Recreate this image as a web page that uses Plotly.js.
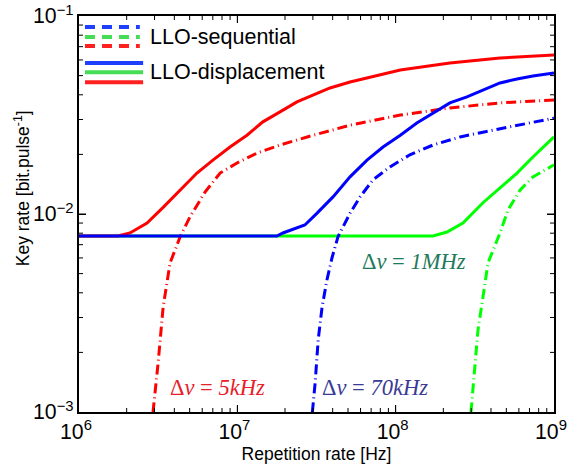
<!DOCTYPE html>
<html>
<head>
<meta charset="utf-8">
<script src="https://cdn.plot.ly/plotly-3.0.1.min.js"></script>
<style>html,body{margin:0;padding:0;background:#fff;}#chart{width:568px;height:468px;}</style>
</head>
<body>
<div id="chart"></div>
<script>
// Repetition rate [Hz] and key rate [bit/pulse]
const redSolidX = [1e6, 1.76e6, 2.10e6, 2.69e6, 3.40e6, 4.35e6, 5.56e6, 7.01e6, 8.99e6, 1.15e7, 1.45e7, 1.86e7, 2.38e7, 3.85e7, 5.15e7, 1.07e8, 2.20e8, 4.56e8, 1e9];
const redSolidY = [7.74e-3, 7.74e-3, 8.02e-3, 9.01e-3, 1.08e-2, 1.32e-2, 1.61e-2, 1.87e-2, 2.18e-2, 2.50e-2, 2.92e-2, 3.28e-2, 3.68e-2, 4.33e-2, 4.64e-2, 5.34e-2, 5.79e-2, 6.14e-2, 6.36e-2];

const redDashX = [2.85e6, 3.16e6, 3.40e6, 3.76e6, 4.35e6, 5.02e6, 6.25e6, 7.78e6, 9.96e6, 1.33e7, 1.86e7, 2.76e7, 5.15e7, 1.07e8, 2.20e8, 4.56e8, 1e9];
const redDashY = [8.0e-4, 1.77e-3, 3.39e-3, 5.66e-3, 7.66e-3, 9.66e-3, 1.29e-2, 1.61e-2, 1.81e-2, 2.03e-2, 2.23e-2, 2.45e-2, 2.81e-2, 3.16e-2, 3.43e-2, 3.64e-2, 3.77e-2];

const blueSolidX = [1e6, 1.78e7, 1.94e7, 2.67e7, 3.19e7, 4.02e7, 5.15e7, 6.59e7, 8.32e7, 1.07e8, 1.36e8, 1.72e8, 2.20e8, 2.82e8, 3.56e8, 4.56e8, 5.84e8, 7.36e8, 1e9];
const blueSolidY = [7.74e-3, 7.74e-3, 8.02e-3, 8.80e-3, 1.01e-2, 1.22e-2, 1.54e-2, 1.87e-2, 2.18e-2, 2.50e-2, 2.88e-2, 3.24e-2, 3.64e-2, 3.90e-2, 4.23e-2, 4.59e-2, 4.81e-2, 4.98e-2, 5.15e-2];

const blueDashX = [2.9e7, 3.10e7, 3.24e7, 3.43e7, 3.68e7, 3.96e7, 4.32e7, 5.15e7, 5.96e7, 7.20e7, 9.21e7, 1.23e8, 1.72e8, 2.55e8, 3.56e8, 5.84e8, 1e9];
const blueDashY = [8.0e-4, 1.40e-3, 2.31e-3, 3.39e-3, 4.64e-3, 6.00e-3, 7.66e-3, 1.01e-2, 1.22e-2, 1.49e-2, 1.73e-2, 1.99e-2, 2.23e-2, 2.45e-2, 2.59e-2, 2.81e-2, 3.05e-2];

const greenSolidX = [1e6, 1.72e8, 2.11e8, 2.66e8, 3.56e8, 4.56e8, 5.84e8, 7.36e8, 1e9];
const greenSolidY = [7.74e-3, 7.74e-3, 8.11e-3, 9.01e-3, 1.14e-2, 1.35e-2, 1.61e-2, 1.94e-2, 2.45e-2];

const greenDashX = [2.92e8, 3.17e8, 3.31e8, 3.56e8, 3.83e8, 4.56e8, 5.13e8, 6.10e8, 7.36e8, 1e9];
const greenDashY = [8.0e-4, 1.63e-3, 2.59e-3, 3.81e-3, 5.66e-3, 8.02e-3, 1.05e-2, 1.32e-2, 1.54e-2, 1.77e-2];

// tick positions
const xMajorTicks = [1e7, 1e8];
const yMajorTicks = [1e-2];
const xMinorTicks = [2e6,3e6,4e6,5e6,6e6,7e6,8e6,9e6, 2e7,3e7,4e7,5e7,6e7,7e7,8e7,9e7, 2e8,3e8,4e8,5e8,6e8,7e8,8e8,9e8];
const yMinorTicks = [2e-3,3e-3,4e-3,5e-3,6e-3,7e-3,8e-3,9e-3, 2e-2,3e-2,4e-2,5e-2,6e-2,7e-2,8e-2,9e-2];

const legendLabels = ["LLO-sequential", "LLO-displacement"];
const linewidthLabels = ["Δ<i>ν</i> = <i>5kHz</i>", "Δ<i>ν</i> = <i>70kHz</i>", "Δ<i>ν</i> = <i>1MHz</i>"];
const xTitle = "Repetition rate [Hz]";
const yTitle = "Key rate [bit.pulse<sup>-1</sup>]";

const RED = "#ff0000", BLUE = "#0000ff", GREEN = "#00ff00";
const DD = "10px,4px,1px,4px";
const W = 3;

const traces = [
  {x: greenSolidX, y: greenSolidY, mode: "lines", line: {color: GREEN, width: W}},
  {x: greenDashX, y: greenDashY, mode: "lines", line: {color: GREEN, width: W, dash: DD}},
  {x: redSolidX, y: redSolidY, mode: "lines", line: {color: RED, width: W}},
  {x: redDashX, y: redDashY, mode: "lines", line: {color: RED, width: W, dash: DD}},
  {x: blueSolidX, y: blueSolidY, mode: "lines", line: {color: BLUE, width: W}},
  {x: blueDashX, y: blueDashY, mode: "lines", line: {color: BLUE, width: W, dash: DD}}
];

const PLOT_W = 475, PLOT_H = 396;
const shapes = [];
// tick marks (inside, on all four sides)
function xTicks(vals, len) {
  const f = len / PLOT_H;
  vals.forEach(v => {
    shapes.push({type: "line", xref: "x", yref: "paper", x0: v, x1: v, y0: 0, y1: f, layer: "above", line: {color: "#000", width: 1}});
    shapes.push({type: "line", xref: "x", yref: "paper", x0: v, x1: v, y0: 1, y1: 1 - f, layer: "above", line: {color: "#000", width: 1}});
  });
}
function yTicks(vals, len) {
  const f = len / PLOT_W;
  vals.forEach(v => {
    shapes.push({type: "line", xref: "paper", yref: "y", x0: 0, x1: f, y0: v, y1: v, layer: "above", line: {color: "#000", width: 1}});
    shapes.push({type: "line", xref: "paper", yref: "y", x0: 1, x1: 1 - f, y0: v, y1: v, layer: "above", line: {color: "#000", width: 1}});
  });
}
xTicks(xMajorTicks, 7); xTicks(xMinorTicks, 4);
yTicks(yMajorTicks, 7); yTicks(yMinorTicks, 4);

// legend drawn with shapes (paper coords)
const legDash = [[0.972, "#1f3fff"], [0.947, "#44dd55"], [0.924, "#ff2020"]];
legDash.forEach(([y, c]) => shapes.push({type: "line", xref: "paper", yref: "paper", x0: 0.0126, x1: 0.128, y0: y, y1: y, line: {color: c, width: 4, dash: "10px,7px"}}));
const legSolid = [[0.881, "#1f3fff"], [0.858, "#44dd55"], [0.833, "#ff2020"]];
legSolid.forEach(([y, c]) => shapes.push({type: "line", xref: "paper", yref: "paper", x0: 0.0126, x1: 0.135, y0: y, y1: y, line: {color: c, width: 4}}));

const SANS = "Liberation Sans, Arial, sans-serif";
const tickFont = {family: SANS, size: 17, color: "#000"};
const annSerif = {family: "Liberation Serif, Times New Roman, serif", size: 22.5};

const layout = {
  width: 568, height: 468,
  margin: {l: 79, r: 14, t: 16, b: 56},
  paper_bgcolor: "#fff", plot_bgcolor: "#fff",
  showlegend: false,
  xaxis: {
    type: "log", range: [6, 9], dtick: 1, exponentformat: "power",
    ticks: "inside", ticklen: 7, tickwidth: 1, tickcolor: "#000",
    showline: true, linecolor: "#000", linewidth: 2, mirror: "ticks",
    showgrid: false, zeroline: false, tickfont: tickFont, ticklabeloverflow: "allow",
    ticklabelshift: -3,
    title: {text: xTitle, font: {family: SANS, size: 17.5, color: "#000"}, standoff: 3}
  },
  yaxis: {
    type: "log", range: [-3, -1], dtick: 1, exponentformat: "power",
    ticks: "inside", ticklen: 7, tickwidth: 1, tickcolor: "#000",
    showline: true, linecolor: "#000", linewidth: 2, mirror: "ticks",
    showgrid: false, zeroline: false, tickfont: tickFont, ticklabeloverflow: "allow"
  },
  shapes: shapes,
  annotations: [
    {xref: "paper", yref: "paper", x: -0.12, y: 0.565, xanchor: "center", yanchor: "middle", textangle: -90, text: yTitle, showarrow: false, font: {family: SANS, size: 17.5, color: "#000"}},
    {xref: "paper", yref: "paper", x: 0.145, y: 0.947, xanchor: "left", yanchor: "middle", text: legendLabels[0], showarrow: false, font: {family: SANS, size: 21.5, color: "#000"}},
    {xref: "paper", yref: "paper", x: 0.145, y: 0.859, xanchor: "left", yanchor: "middle", text: legendLabels[1], showarrow: false, font: {family: SANS, size: 21.5, color: "#000"}},
    {xref: "paper", yref: "paper", x: 0.291, y: 0.061, xanchor: "center", yanchor: "middle", text: linewidthLabels[0], showarrow: false, font: Object.assign({color: "#e8202a"}, annSerif)},
    {xref: "paper", yref: "paper", x: 0.623, y: 0.061, xanchor: "center", yanchor: "middle", text: linewidthLabels[1], showarrow: false, font: Object.assign({color: "#3a3a96"}, annSerif)},
    {xref: "paper", yref: "paper", x: 0.706, y: 0.379, xanchor: "center", yanchor: "middle", text: linewidthLabels[2], showarrow: false, font: Object.assign({color: "#1e7a5a"}, annSerif)}
  ]
};

Plotly.newPlot("chart", traces, layout, {staticPlot: true, displayModeBar: false});
</script>
</body>
</html>
